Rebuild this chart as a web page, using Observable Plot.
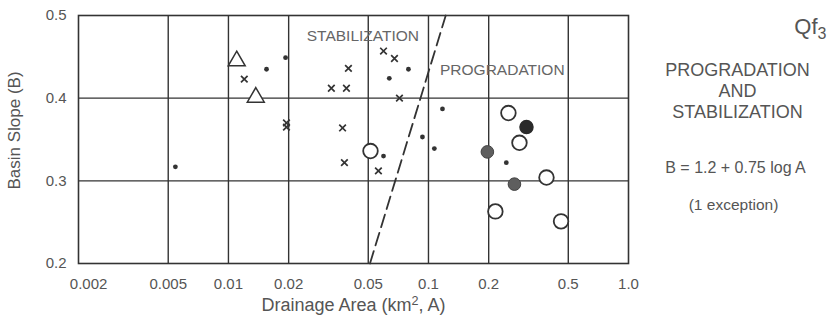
<!DOCTYPE html>
<html>
<head>
<meta charset="utf-8">
<script src="https://cdn.jsdelivr.net/npm/d3@7"></script>
<script src="https://cdn.jsdelivr.net/npm/@observablehq/plot@0.6"></script>
<style>
  html, body { margin: 0; padding: 0; background: #fff; }
  #chart { width: 832px; height: 320px; overflow: hidden; }
</style>
</head>
<body>
<div id="chart"></div>
<script>
// ---- data ----
const xTicks = [0.002, 0.005, 0.01, 0.02, 0.05, 0.1, 0.2, 0.5, 1.0];
const xTickLabels = ["0.002", "0.005", "0.01", "0.02", "0.05", "0.1", "0.2", "0.5", "1.0"];
const xGrid = [0.005, 0.01, 0.02, 0.05, 0.1, 0.2, 0.5];
const yTicks = [0.2, 0.3, 0.4, 0.5];
const yTickLabels = ["0.2", "0.3", "0.4", "0.5"];
const yGrid = [0.3, 0.4];

// small black dots
const dotA = [0.00543, 0.0155, 0.0193, 0.0596, 0.0794, 0.0637, 0.1175, 0.0933, 0.107, 0.245];
const dotB = [0.317, 0.435, 0.449, 0.330, 0.435, 0.424, 0.387, 0.353, 0.339, 0.322];
// crosses
const crossA = [0.012, 0.0195, 0.0195, 0.0398, 0.0327, 0.0389, 0.0372, 0.038, 0.0562, 0.0596, 0.0676, 0.0716];
const crossB = [0.423, 0.370, 0.365, 0.436, 0.412, 0.412, 0.364, 0.322, 0.312, 0.457, 0.448, 0.400];
// open triangles
const triA = [0.011, 0.0137];
const triB = [0.445, 0.401];
// open circles
const openA = [0.0513, 0.251, 0.285, 0.389, 0.216, 0.46];
const openB = [0.336, 0.382, 0.346, 0.304, 0.263, 0.251];
// black filled circle
const blackA = [0.309];
const blackB = [0.365];
// grey filled circles
const greyA = [0.197, 0.269];
const greyB = [0.335, 0.296];
// dashed boundary B = 1.2 + 0.75 log A (end points)
const lineA = [0.051, 0.122];
const lineB = [0.2, 0.5];

const xLabel = "Drainage Area (km2, A)";
const yLabel = "Basin Slope (B)";
const regionLabels = ["STABILIZATION", "PROGRADATION"];
const regionA = [0.047, 0.234];
const regionB = [0.4747, 0.4337];

const font = "'Liberation Sans', Arial, Helvetica, sans-serif";
const ink = "#333";
const textInk = "#555";

const pts = (A, B) => A.map((a, i) => ({a, b: B[i]}));

const chart = Plot.plot({
  width: 832,
  height: 320,
  marginLeft: 78,
  marginRight: 204,
  marginTop: 15,
  marginBottom: 57,
  style: {fontFamily: font, background: "#fff", color: textInk},
  x: {type: "log", domain: [0.00178, 1.0], axis: null},
  y: {domain: [0.2, 0.5], axis: null},
  marks: [
    Plot.ruleX(xGrid, {x: d => d, stroke: ink, strokeWidth: 1.4}),
    Plot.ruleY(yGrid, {y: d => d, stroke: ink, strokeWidth: 1.4}),
    Plot.frame({stroke: ink, strokeWidth: 1.6}),
    // tick labels
    Plot.text(xTicks, {x: d => d, frameAnchor: "bottom", dy: 25, lineAnchor: "bottom", textAnchor: "middle",
      text: (d, i) => xTickLabels[i], fontSize: 15, fill: textInk}),
    Plot.text(yTicks, {y: d => d, frameAnchor: "left", dx: -12, textAnchor: "end", lineAnchor: "middle",
      text: (d, i) => yTickLabels[i], fontSize: 15, fill: textInk}),
    Plot.line(pts(lineA, lineB), {x: "a", y: "b", stroke: ink, strokeWidth: 1.8, strokeDasharray: "13,6"}),
    Plot.dot(pts(dotA, dotB), {x: "a", y: "b", r: 2.4, fill: ink, stroke: "none"}),
    Plot.dot(pts(crossA, crossB), {x: "a", y: "b", symbol: "times", r: 3.1, stroke: ink, strokeWidth: 1.7}),
    Plot.dot(pts(triA, triB), {x: "a", y: "b", symbol: "triangle", r: 6.3, fill: "#fff", stroke: ink, strokeWidth: 1.5}),
    Plot.dot(pts(openA, openB), {x: "a", y: "b", r: 7.3, fill: "#fff", stroke: ink, strokeWidth: 1.8}),
    Plot.dot(pts(blackA, blackB), {x: "a", y: "b", r: 6.5, fill: "#2a2a2a", stroke: "#2a2a2a"}),
    Plot.dot(pts(greyA, greyB), {x: "a", y: "b", r: 6.3, fill: "#5e5e5e", stroke: "#444", strokeWidth: 1}),
    Plot.text(regionLabels, {x: (d, i) => regionA[i], y: (d, i) => regionB[i], text: d => d,
      fontSize: 15.5, fill: "#666", lineAnchor: "middle", textAnchor: "middle"}),
    // axis titles
    Plot.text([xLabel], {frameAnchor: "bottom", dy: 47, lineAnchor: "bottom", textAnchor: "middle", text: d => d, fontSize: 18, fill: textInk}),
    Plot.text([yLabel], {frameAnchor: "left", dx: -64, dy: -9, rotate: -90, lineAnchor: "middle", textAnchor: "middle", text: d => d, fontSize: 17, fill: textInk}),
    // right-hand annotations
    Plot.text(["Qf"], {frameAnchor: "top-right", dx: 189, dy: 18, textAnchor: "end", lineAnchor: "bottom", text: d => d, fontSize: 22, fill: textInk}),
    Plot.text(["3"], {frameAnchor: "top-right", dx: 189, dy: 23, textAnchor: "start", lineAnchor: "bottom", text: d => d, fontSize: 16, fill: textInk}),
    Plot.text(["PROGRADATION\nAND\nSTABILIZATION"], {frameAnchor: "top-right", dx: 109, dy: 46, lineAnchor: "top", textAnchor: "middle", lineHeight: 1.167, text: d => d, fontSize: 18, fill: textInk}),
    Plot.text(["B = 1.2 + 0.75 log A"], {frameAnchor: "top-right", dx: 107, dy: 157, lineAnchor: "bottom", textAnchor: "middle", text: d => d, fontSize: 16, fill: textInk}),
    Plot.text(["(1 exception)"], {frameAnchor: "top-right", dx: 105, dy: 194, lineAnchor: "bottom", textAnchor: "middle", text: d => d, fontSize: 15.5, fill: textInk})
  ]
});

// raise the "2" of km2 as a superscript
d3.select(chart).selectAll("text").each(function () {
  if (this.textContent === xLabel) {
    const t = d3.select(this);
    t.text(null);
    t.append("tspan").text("Drainage Area (km");
    t.append("tspan").attr("dy", -6).attr("font-size", "0.7em").text("2");
    t.append("tspan").attr("dy", 6).text(", A)");
  }
});

document.getElementById("chart").appendChild(chart);
</script>
</body>
</html>
